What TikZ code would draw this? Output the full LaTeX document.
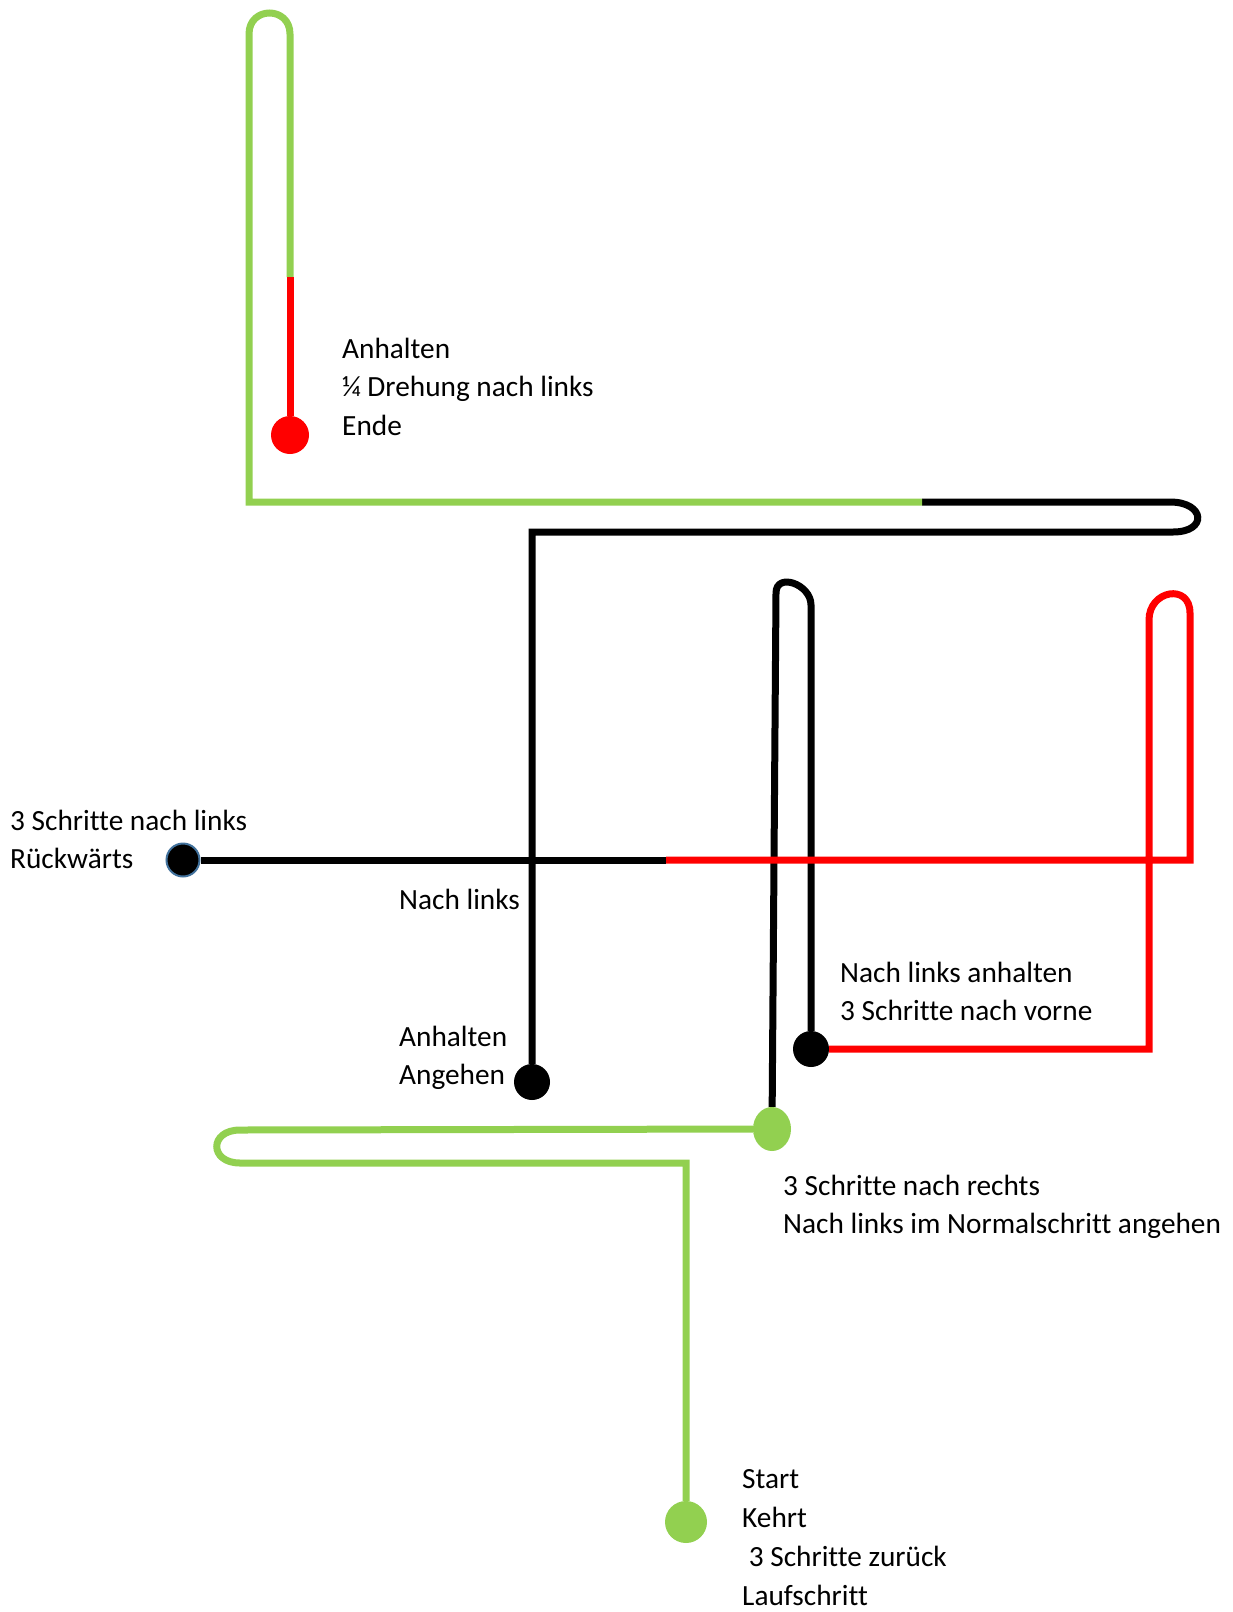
\documentclass[tikz,border=0pt]{standalone}
\usepackage{fontspec}
\setmainfont{Carlito}[Ligatures=NoCommon]
\usetikzlibrary{shapes.geometric}
\definecolor{walkgreen}{HTML}{92D050}
\definecolor{walkred}{HTML}{FF0000}
\definecolor{walkblack}{HTML}{000000}
\definecolor{walkrim}{HTML}{41719C}
\tikzset{
  route/.style={line width=7pt, line join=miter},
  spot/.style={circle, inner sep=0pt, minimum size=#1},
  cue/.style={anchor=base west, align=left, inner sep=0pt, font=\fontsize{29.3}{38.8}\selectfont},
}
\begin{document}
\begin{tikzpicture}[x=1pt, y=-1pt]
            \useasboundingbox (0,0) rectangle (1232,1612);

            % Dots
            \node[spot=42pt, fill=walkgreen] (start) at (686,1522) {};
            \node[ellipse, inner sep=0pt, minimum width=38pt, minimum height=44pt, fill=walkgreen] (turnright) at (772,1129) {};
            \node[spot=36pt, fill=walkblack] (halt) at (811,1049) {};
            \node[spot=33pt, fill=walkblack, draw=walkrim, line width=2pt] (back) at (183,860) {};
            \node[spot=36pt, fill=walkblack] (go) at (532,1082) {};
            \node[spot=38pt, fill=walkred] (finish) at (290,435) {};

            % Switch points
            \coordinate (redblack) at (666,860);
            \coordinate (blackgreen) at (922,502);
            \coordinate (greenred) at (290,277);

            % Start: green
            \draw[route, walkgreen] (start) -- (686,1163) -- (240,1163)
                .. controls (209,1163) and (209,1130) .. (240,1130) -- (turnright);

            % Black loop up
            \draw[route, walkblack] (turnright) -- (776,593)
                .. controls (776,572) and (811,584) .. (811,605) -- (halt);

            % Red loop right
            \draw[route, walkred] (halt) -- (1149,1049) -- (1149,620)
                .. controls (1149,590) and (1190,583) .. (1190,613) -- (1190,860) -- (redblack);
            \draw[route, walkblack] (redblack) -- (back);

            % Black loop from Angehen
            \draw[route, walkblack] (go) -- (532,532) -- (1173,532)
                .. controls (1208,532) and (1205,502) .. (1170,502) -- (blackgreen);

            % Green to the end
            \draw[route, walkgreen] (blackgreen) -- (249,502) -- (249,34)
                .. controls (249,6) and (290,6) .. (290,34) -- (greenred);
            \draw[route, walkred] (greenred) -- (finish);

            % Labels (base = last line)
            \node[cue] (endtext) at (342,435.6) {Anhalten\\¼ Drehung nach links\\Ende};
            \node[cue] (backtext) at (10,868.8) {3 Schritte nach links\\Rückwärts};
            \node[cue] (lefttext) at (399,909) {Nach links};
            \node[cue] (gotext) at (399,1084.8) {Anhalten\\Angehen};
            \node[cue] (halttext) at (840,1020.8) {Nach links anhalten\\3 Schritte nach vorne};
            \node[cue] (righttext) at (783,1233.8) {3 Schritte nach rechts\\Nach links im Normalschritt angehen};
            \node[cue] (starttext) at (742,1605) {Start\\Kehrt\\\ 3 Schritte zurück\\Laufschritt};
        \end{tikzpicture}
\end{document}
